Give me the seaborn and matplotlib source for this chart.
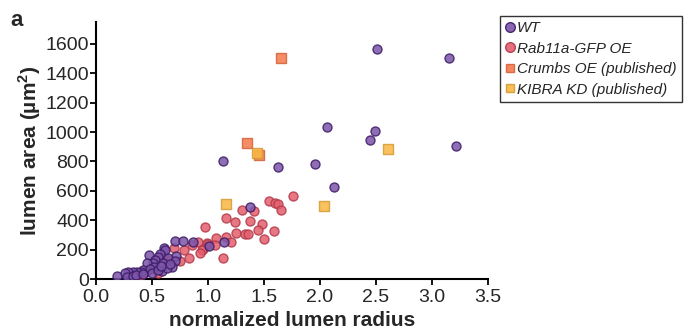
import matplotlib
matplotlib.use("Agg")
import matplotlib.pyplot as plt
import seaborn as sns
import pandas as pd
from matplotlib.lines import Line2D

# ---- data ----
wt_x = [2.51, 3.15, 2.06, 2.49, 2.45, 3.22, 1.13, 1.96, 1.63, 2.13, 1.375,
        1.14, 0.705, 0.775, 0.865, 1.01,
        0.61, 0.62, 0.57, 0.47, 0.55, 0.71, 0.64, 0.705, 0.53, 0.60, 0.51, 0.455,
        0.68, 0.52, 0.42, 0.59, 0.48, 0.40, 0.37, 0.33, 0.29, 0.26, 0.19, 0.28,
        0.33, 0.36, 0.42, 0.50, 0.55, 0.63, 0.66, 0.58]
wt_y = [1565, 1503, 1034, 1007, 946, 905, 803, 782, 762, 626, 490,
        255, 259, 259, 252, 222,
        214, 200, 170, 163, 152, 156, 140, 122, 129, 109, 109, 109,
        82, 82, 61, 54, 68, 48, 48, 48, 45, 38, 20, 14,
        20, 27, 34, 40, 60, 75, 100, 88]

rab_x = [1.76, 1.545, 1.60, 1.63, 1.65, 1.30, 1.41, 1.16, 1.24, 1.38, 1.48, 0.97,
         1.45, 1.59, 1.25, 1.33, 1.36, 1.50, 1.07, 1.16, 1.21, 0.91, 0.99, 0.955,
         1.00, 0.79, 0.95, 0.93, 0.83, 1.13, 0.75, 0.50, 0.55, 0.64, 0.45, 0.60,
         0.40, 0.70, 0.86, 1.06]
rab_y = [565, 531, 517, 510, 469, 469, 463, 415, 388, 395, 374, 354,
         333, 327, 313, 306, 306, 272, 279, 286, 252, 252, 245, 204,
         238, 197, 197, 177, 143, 143, 120, 75, 40, 130, 50, 160,
         30, 210, 230, 230]

crb_x = [1.65, 1.35, 1.46]
crb_y = [1503, 925, 843]

kib_x = [1.44, 2.61, 1.16, 2.04]
kib_y = [857, 884, 510, 497]

labels = ["WT", "Rab11a-GFP OE", "Crumbs OE (published)", "KIBRA KD (published)"]
x_ticks = [0.0, 0.5, 1.0, 1.5, 2.0, 2.5, 3.0, 3.5]
y_ticks = [0, 200, 400, 600, 800, 1000, 1200, 1400, 1600]

# ---- style ----
sns.set_style("ticks")
plt.rcParams["font.family"] = ["Liberation Sans", "DejaVu Sans"]

fig = plt.figure(figsize=(6.86, 3.31), dpi=100)
ax = fig.add_axes([0.140, 0.157, 0.571, 0.777])

groups = [
    (rab_x, rab_y, labels[1], "#E45F6E", "#B23A4A", "o"),
    (wt_x, wt_y, labels[0], "#7D55AA", "#3B1C66", "o"),
    (crb_x, crb_y, labels[2], "#F47A4C", "#D5603A", "s"),
    (kib_x, kib_y, labels[3], "#F9B842", "#D49A35", "s"),
]
for gx, gy, lab, fc, ec, mk in groups:
    df = pd.DataFrame({"x": gx, "y": gy})
    sns.scatterplot(data=df, x="x", y="y", ax=ax, color=fc, edgecolor=ec,
                    marker=mk, s=42, linewidth=1.0, alpha=0.85, label=lab,
                    legend=False, zorder=3)

ax.set_xlim(0, 3.5)
ax.set_ylim(0, 1750)
ax.set_xticks(x_ticks)
ax.set_xticklabels([f"{v:.1f}" for v in x_ticks])
ax.set_yticks(y_ticks)
ax.tick_params(axis="both", labelsize=14, width=1.3, length=4, color="black")
ax.tick_params(axis="x", pad=3)
ax.tick_params(axis="y", pad=1)
for s in ["top", "right"]:
    ax.spines[s].set_visible(False)
for s in ["left", "bottom"]:
    ax.spines[s].set_linewidth(1.5)
    ax.spines[s].set_color("black")

ax.set_xlabel("normalized lumen radius", fontsize=15, fontweight="bold",
              labelpad=4)
ax.set_ylabel("lumen area (µm$^\\mathregular{2}$)", fontsize=15,
              fontweight="bold", labelpad=2)

handles = [
    Line2D([], [], marker="o", ls="", markersize=7, markerfacecolor="#7D55AA",
           markeredgecolor="#3B1C66", alpha=0.9),
    Line2D([], [], marker="o", ls="", markersize=7, markerfacecolor="#E45F6E",
           markeredgecolor="#B23A4A", alpha=0.9),
    Line2D([], [], marker="s", ls="", markersize=6, markerfacecolor="#F47A4C",
           markeredgecolor="#D5603A", alpha=0.9),
    Line2D([], [], marker="s", ls="", markersize=6, markerfacecolor="#F9B842",
           markeredgecolor="#D49A35", alpha=0.9),
]
leg = fig.legend(handles, labels, loc="upper left",
                 bbox_to_anchor=(500 / 686, 1 - 16 / 331),
                 prop={"size": 11, "style": "italic"}, frameon=True,
                 fancybox=False, edgecolor="black", handlelength=0.6,
                 handletextpad=0.15, labelspacing=0.42, borderpad=0.35,
                 borderaxespad=0)
leg.get_frame().set_linewidth(1.0)

fig.text(10 / 686, 1 - 20 / 331, "a", fontsize=16, fontweight="bold",
         va="center", ha="left")

fig.savefig("out.png", dpi=100)
